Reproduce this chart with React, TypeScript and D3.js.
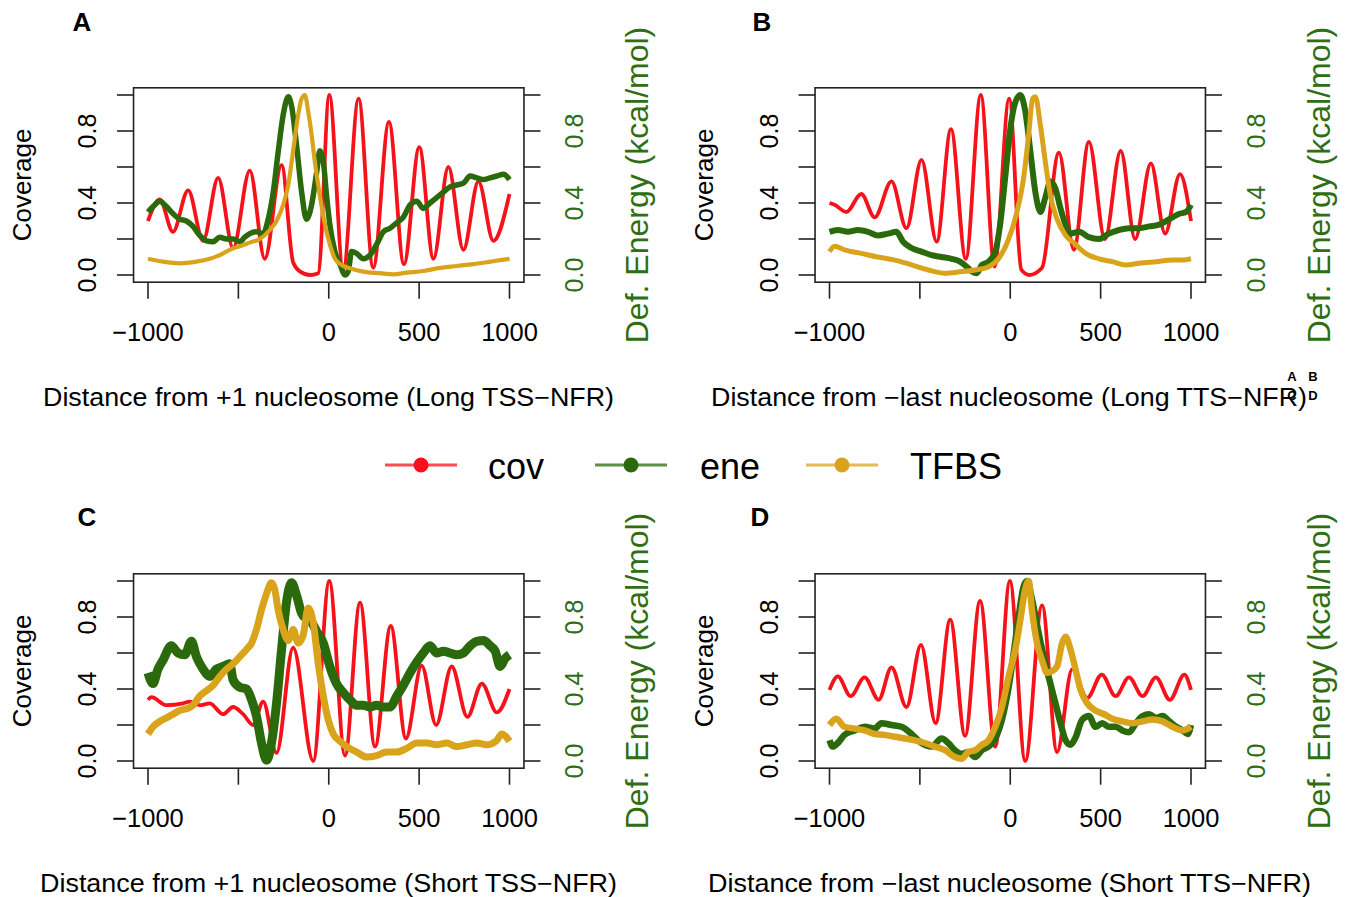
import React from 'react';
import * as d3 from 'd3';

type P = [number, number];

const xTicks = [-1000, -500, 0, 500, 1000];
const xTickLabels = ['−1000', '', '0', '500', '1000'];
const yTicks = [0, 0.2, 0.4, 0.6, 0.8, 1.0];
const yTickLabels = ['0.0', '', '0.4', '', '0.8', ''];
const legendNames = ['cov', 'ene', 'TFBS'];

// Panel A (Long TSS-NFR)
const covA: P[] = [[-1000,0.30],[-935,0.42],[-862,0.24],[-778,0.47],[-695,0.19],[-612,0.54],[-529,0.15],[-437,0.58],[-354,0.09],[-261,0.61],[-197,0.07],[-160,0.02],[-104,0.0],[-58,0.01],[3,1.0],[80,0.03],[165,0.98],[246,0.04],[333,0.85],[416,0.06],[501,0.71],[579,0.09],[662,0.60],[745,0.14],[828,0.52],[911,0.19],[1000,0.45]];
const eneA: P[] = [[-1000,0.35],[-972,0.38],[-935,0.41],[-898,0.38],[-861,0.34],[-825,0.31],[-788,0.30],[-751,0.27],[-714,0.22],[-677,0.19],[-640,0.185],[-603,0.21],[-566,0.20],[-529,0.20],[-492,0.185],[-465,0.21],[-437,0.23],[-400,0.24],[-363,0.23],[-335,0.31],[-307,0.46],[-279,0.69],[-252,0.89],[-224,0.99],[-206,0.94],[-178,0.72],[-150,0.46],[-123,0.31],[-95,0.39],[-67,0.57],[-49,0.69],[-30,0.63],[-12,0.44],[6,0.28],[34,0.13],[62,0.06],[90,0.0],[108,0.02],[126,0.13],[154,0.12],[191,0.09],[228,0.11],[265,0.17],[302,0.24],[339,0.26],[376,0.29],[412,0.32],[450,0.39],[487,0.41],[523,0.37],[560,0.40],[597,0.43],[634,0.46],[671,0.49],[708,0.50],[745,0.51],[782,0.55],[819,0.54],[856,0.53],[893,0.54],[930,0.55],[967,0.56],[1000,0.53]];
const tfbsA: P[] = [[-1000,0.09],[-917,0.074],[-825,0.065],[-732,0.074],[-658,0.09],[-603,0.11],[-548,0.14],[-492,0.16],[-437,0.18],[-381,0.20],[-326,0.25],[-289,0.30],[-252,0.39],[-224,0.50],[-197,0.69],[-169,0.89],[-150,0.98],[-132,1.0],[-114,0.91],[-95,0.78],[-77,0.63],[-49,0.44],[-21,0.28],[6,0.17],[34,0.09],[71,0.056],[117,0.037],[191,0.019],[283,0.01],[357,0.004],[431,0.013],[524,0.022],[616,0.04],[708,0.05],[800,0.06],[893,0.074],[948,0.083],[1000,0.09]];

// Panel B (Long TTS-NFR)
const covB: P[] = [[-1000,0.40],[-972,0.39],[-907,0.35],[-824,0.45],[-750,0.32],[-657,0.52],[-574,0.26],[-491,0.64],[-407,0.185],[-328,0.81],[-246,0.09],[-163,1.0],[-87,0.046],[-6,0.98],[61,0.03],[106,0.0],[176,0.04],[269,0.68],[352,0.14],[435,0.74],[524,0.20],[611,0.69],[691,0.20],[778,0.62],[857,0.23],[939,0.56],[1000,0.30]];
const eneB: P[] = [[-1000,0.24],[-954,0.25],[-898,0.24],[-843,0.25],[-787,0.24],[-732,0.22],[-676,0.23],[-630,0.24],[-593,0.185],[-546,0.15],[-491,0.13],[-435,0.11],[-380,0.10],[-324,0.09],[-278,0.074],[-241,0.046],[-213,0.02],[-185,0.01],[-157,0.056],[-120,0.074],[-83,0.13],[-56,0.28],[-28,0.54],[0,0.81],[28,0.96],[56,1.0],[83,0.91],[111,0.69],[139,0.46],[167,0.35],[194,0.43],[222,0.52],[250,0.48],[278,0.37],[306,0.28],[333,0.23],[380,0.24],[435,0.21],[491,0.20],[546,0.23],[602,0.25],[657,0.26],[713,0.26],[769,0.27],[824,0.28],[880,0.31],[935,0.34],[972,0.35],[1000,0.39]];
const tfbsB: P[] = [[-1000,0.13],[-972,0.16],[-917,0.14],[-824,0.12],[-732,0.10],[-639,0.083],[-546,0.056],[-454,0.028],[-361,0.01],[-269,0.019],[-194,0.028],[-120,0.046],[-65,0.09],[-9,0.20],[37,0.35],[74,0.54],[102,0.78],[124,0.98],[139,0.99],[167,0.83],[194,0.63],[222,0.44],[259,0.31],[306,0.22],[361,0.17],[417,0.12],[491,0.09],[565,0.074],[639,0.056],[713,0.065],[806,0.074],[898,0.083],[954,0.083],[1000,0.09]];

// Panel C (Short TSS-NFR)
const covC: P[] = [[-1000,0.34],[-981,0.355],[-898,0.31],[-806,0.32],[-769,0.33],[-714,0.31],[-658,0.32],[-585,0.26],[-529,0.30],[-474,0.26],[-418,0.20],[-363,0.33],[-289,0.045],[-197,0.63],[-86,0.0],[3,1.0],[90,0.03],[173,0.88],[256,0.08],[343,0.75],[427,0.125],[514,0.53],[594,0.20],[680,0.525],[767,0.245],[847,0.43],[930,0.27],[1000,0.40]];
const eneC: P[] = [[-1000,0.49],[-972,0.43],[-945,0.51],[-917,0.56],[-871,0.64],[-834,0.60],[-797,0.59],[-760,0.665],[-732,0.58],[-695,0.51],[-658,0.47],[-622,0.51],[-585,0.525],[-548,0.54],[-529,0.45],[-492,0.41],[-455,0.40],[-427,0.34],[-400,0.25],[-372,0.10],[-344,0.004],[-317,0.10],[-289,0.32],[-261,0.62],[-234,0.88],[-206,0.99],[-178,0.92],[-150,0.82],[-123,0.79],[-95,0.77],[-67,0.72],[-30,0.655],[6,0.525],[43,0.43],[80,0.38],[117,0.34],[154,0.31],[191,0.31],[228,0.30],[265,0.31],[302,0.30],[339,0.30],[376,0.36],[412,0.42],[450,0.49],[487,0.55],[523,0.60],[560,0.64],[597,0.60],[634,0.61],[671,0.60],[708,0.59],[745,0.60],[782,0.64],[819,0.665],[856,0.67],[893,0.64],[921,0.61],[948,0.525],[976,0.57],[1000,0.59]];
const tfbsC: P[] = [[-1000,0.15],[-972,0.19],[-935,0.22],[-898,0.24],[-861,0.26],[-825,0.28],[-788,0.29],[-751,0.31],[-714,0.36],[-677,0.39],[-640,0.42],[-603,0.47],[-566,0.51],[-529,0.54],[-492,0.58],[-455,0.62],[-427,0.655],[-400,0.73],[-372,0.84],[-344,0.93],[-317,0.99],[-298,0.95],[-280,0.84],[-252,0.73],[-224,0.67],[-197,0.73],[-169,0.655],[-141,0.70],[-114,0.85],[-86,0.77],[-58,0.54],[-30,0.36],[-3,0.23],[25,0.15],[62,0.11],[99,0.08],[154,0.05],[210,0.022],[265,0.03],[320,0.05],[376,0.05],[431,0.07],[487,0.10],[542,0.10],[597,0.09],[653,0.10],[708,0.08],[763,0.09],[819,0.10],[874,0.09],[930,0.115],[957,0.15],[1000,0.11]];

// Panel D (Short TTS-NFR)
const covD: P[] = [[-1000,0.395],[-954,0.47],[-883,0.36],[-806,0.465],[-728,0.34],[-657,0.52],[-574,0.30],[-494,0.645],[-413,0.21],[-332,0.785],[-250,0.14],[-167,0.89],[-83,0.08],[-2,1.0],[83,0.0],[176,0.865],[259,0.05],[343,0.51],[426,0.35],[506,0.48],[583,0.36],[657,0.465],[732,0.36],[806,0.465],[883,0.34],[963,0.48],[1000,0.395]];
const eneD: P[] = [[-1000,0.115],[-982,0.08],[-954,0.10],[-917,0.145],[-861,0.17],[-806,0.19],[-750,0.18],[-713,0.21],[-657,0.20],[-602,0.19],[-546,0.15],[-491,0.10],[-435,0.08],[-380,0.125],[-343,0.10],[-306,0.06],[-269,0.04],[-232,0.05],[-194,0.022],[-157,0.06],[-120,0.08],[-83,0.125],[-46,0.23],[-9,0.41],[19,0.60],[46,0.80],[74,0.97],[93,1.0],[120,0.90],[157,0.71],[194,0.54],[222,0.43],[250,0.32],[278,0.21],[306,0.115],[333,0.09],[361,0.13],[398,0.23],[435,0.25],[472,0.19],[509,0.21],[546,0.19],[583,0.19],[620,0.17],[657,0.16],[695,0.21],[732,0.25],[769,0.26],[806,0.24],[843,0.25],[880,0.22],[917,0.19],[954,0.17],[982,0.15],[1000,0.20]];
const tfbsD: P[] = [[-1000,0.20],[-963,0.235],[-917,0.19],[-861,0.18],[-806,0.17],[-750,0.15],[-695,0.145],[-639,0.135],[-583,0.125],[-528,0.115],[-472,0.10],[-417,0.08],[-361,0.06],[-306,0.022],[-269,0.013],[-232,0.05],[-194,0.06],[-157,0.09],[-120,0.115],[-83,0.19],[-46,0.30],[-9,0.47],[28,0.62],[56,0.785],[83,0.955],[102,1.0],[120,0.84],[148,0.655],[176,0.56],[204,0.49],[232,0.50],[259,0.525],[287,0.655],[306,0.69],[333,0.62],[361,0.51],[389,0.395],[426,0.32],[472,0.28],[519,0.26],[565,0.235],[620,0.22],[676,0.21],[732,0.22],[787,0.23],[843,0.22],[898,0.19],[954,0.17],[1000,0.19]];

const RED = '#f5121a';
const GREEN = '#2b6a0c';
const GOLD = '#d9a41c';
const GREEN_TEXT = '#2f6e12';
const FONT = '"Liberation Sans", Arial, Helvetica, sans-serif';

interface PanelProps {
  ox: number; oy: number;
  letter: string; letterX: number; letterY: number;
  cov: P[]; ene: P[]; tfbs: P[];
  xlabel: string; xlabelCx: number; xlabelLen: number;
  eneW: number; tfbsW: number;
}

function Panel(p: PanelProps) {
  const x = d3.scaleLinear().domain([-1000, 1000]).range([148 + p.ox, 509.5 + p.ox]);
  const y = d3.scaleLinear().domain([0, 1]).range([275 + p.oy, 95 + p.oy]);
  const line = d3.line<P>().x(d => x(d[0])).y(d => y(d[1])).curve(d3.curveMonotoneX);
  const bx0 = x(-1080), bx1 = x(1080), by0 = y(-0.04), by1 = y(1.04);
  const tickLen = 16.5;
  return (
    <g fontFamily={FONT}>
      <text x={p.letterX} y={p.letterY} fontSize={26} fontWeight="bold" textAnchor="middle" dominantBaseline="central">{p.letter}</text>
      <path d={line(p.cov) || ''} fill="none" stroke={RED} strokeWidth={3.8} strokeLinejoin="round" />
      <path d={line(p.ene) || ''} fill="none" stroke={GREEN} strokeWidth={p.eneW} strokeLinejoin="round" />
      <path d={line(p.tfbs) || ''} fill="none" stroke={GOLD} strokeWidth={p.tfbsW} strokeLinejoin="round" />
      <rect x={bx0} y={by1} width={bx1 - bx0} height={by0 - by1} fill="none" stroke="#222" strokeWidth={1.6} />
      {xTicks.map((t, i) => (
        <g key={'x' + i}>
          <line x1={x(t)} x2={x(t)} y1={by0} y2={by0 + tickLen} stroke="#222" strokeWidth={1.6} />
          <text x={x(t)} y={332 + p.oy} fontSize={25.5} textAnchor="middle" dominantBaseline="central">{xTickLabels[i]}</text>
        </g>
      ))}
      {yTicks.map((t, i) => (
        <g key={'y' + i}>
          <line x1={bx0 - tickLen} x2={bx0} y1={y(t)} y2={y(t)} stroke="#222" strokeWidth={1.6} />
          <line x1={bx1} x2={bx1 + tickLen} y1={y(t)} y2={y(t)} stroke="#222" strokeWidth={1.6} />
          {yTickLabels[i] && (
            <text transform={`translate(${87 + p.ox},${y(t)}) rotate(-90)`} fontSize={25} textAnchor="middle" dominantBaseline="central">{yTickLabels[i]}</text>
          )}
          {yTickLabels[i] && (
            <text transform={`translate(${574 + p.ox},${y(t)}) rotate(-90)`} fontSize={25} fill={GREEN_TEXT} textAnchor="middle" dominantBaseline="central">{yTickLabels[i]}</text>
          )}
        </g>
      ))}
      <text transform={`translate(${22 + p.ox},${185 + p.oy}) rotate(-90)`} fontSize={26} textAnchor="middle" dominantBaseline="central">Coverage</text>
      <text transform={`translate(${637 + p.ox},${185 + p.oy}) rotate(-90)`} fontSize={32} fill={GREEN_TEXT} textAnchor="middle" dominantBaseline="central">Def. Energy (kcal/mol)</text>
      <text x={p.xlabelCx} y={397 + p.oy} fontSize={25} textAnchor="middle" dominantBaseline="central" textLength={p.xlabelLen} lengthAdjust="spacingAndGlyphs">{p.xlabel}</text>
    </g>
  );
}

export default function App() {
  const legendColors = [RED, GREEN, GOLD];
  const legendLineX = [385, 595, 806];
  const legendTextX = [488, 700, 910];
  return (
    <svg width={1345} height={897} style={{ position: 'absolute', left: 0, top: 0, background: '#fff' }}>
      <rect x={0} y={0} width={1345} height={897} fill="#fff" />
      <Panel ox={0} oy={0} letter="A" letterX={82} letterY={22} cov={covA} ene={eneA} tfbs={tfbsA}
        xlabel="Distance from +1 nucleosome (Long TSS−NFR)" xlabelCx={328.5} xlabelLen={571} eneW={5.5} tfbsW={4.2} />
      <Panel ox={681.5} oy={0} letter="B" letterX={762} letterY={22} cov={covB} ene={eneB} tfbs={tfbsB}
        xlabel="Distance from −last nucleosome (Long TTS−NFR)" xlabelCx={1009} xlabelLen={596} eneW={6} tfbsW={5} />
      <Panel ox={0} oy={486} letter="C" letterX={87} letterY={517} cov={covC} ene={eneC} tfbs={tfbsC}
        xlabel="Distance from +1 nucleosome (Short TSS−NFR)" xlabelCx={328.5} xlabelLen={577} eneW={9} tfbsW={7} />
      <Panel ox={681.5} oy={486} letter="D" letterX={760} letterY={517} cov={covD} ene={eneD} tfbs={tfbsD}
        xlabel="Distance from −last nucleosome (Short TTS−NFR)" xlabelCx={1009.5} xlabelLen={603} eneW={6.5} tfbsW={6.5} />
      <g fontFamily={FONT} fontWeight="bold" fontSize={13} textAnchor="middle" dominantBaseline="central">
        <text x={1292} y={376}>A</text>
        <text x={1313} y={376}>B</text>
        <text x={1292} y={395}>C</text>
        <text x={1313} y={395}>D</text>
      </g>
      <g fontFamily={FONT}>
        {legendNames.map((n, i) => (
          <g key={n}>
            <line x1={legendLineX[i]} x2={legendLineX[i] + 72} y1={465} y2={465} stroke={legendColors[i]} strokeOpacity={0.75} strokeWidth={3} />
            <circle cx={legendLineX[i] + 36} cy={465} r={7.5} fill={legendColors[i]} />
            <text x={legendTextX[i]} y={466} fontSize={36} dominantBaseline="central">{n}</text>
          </g>
        ))}
      </g>
    </svg>
  );
}
